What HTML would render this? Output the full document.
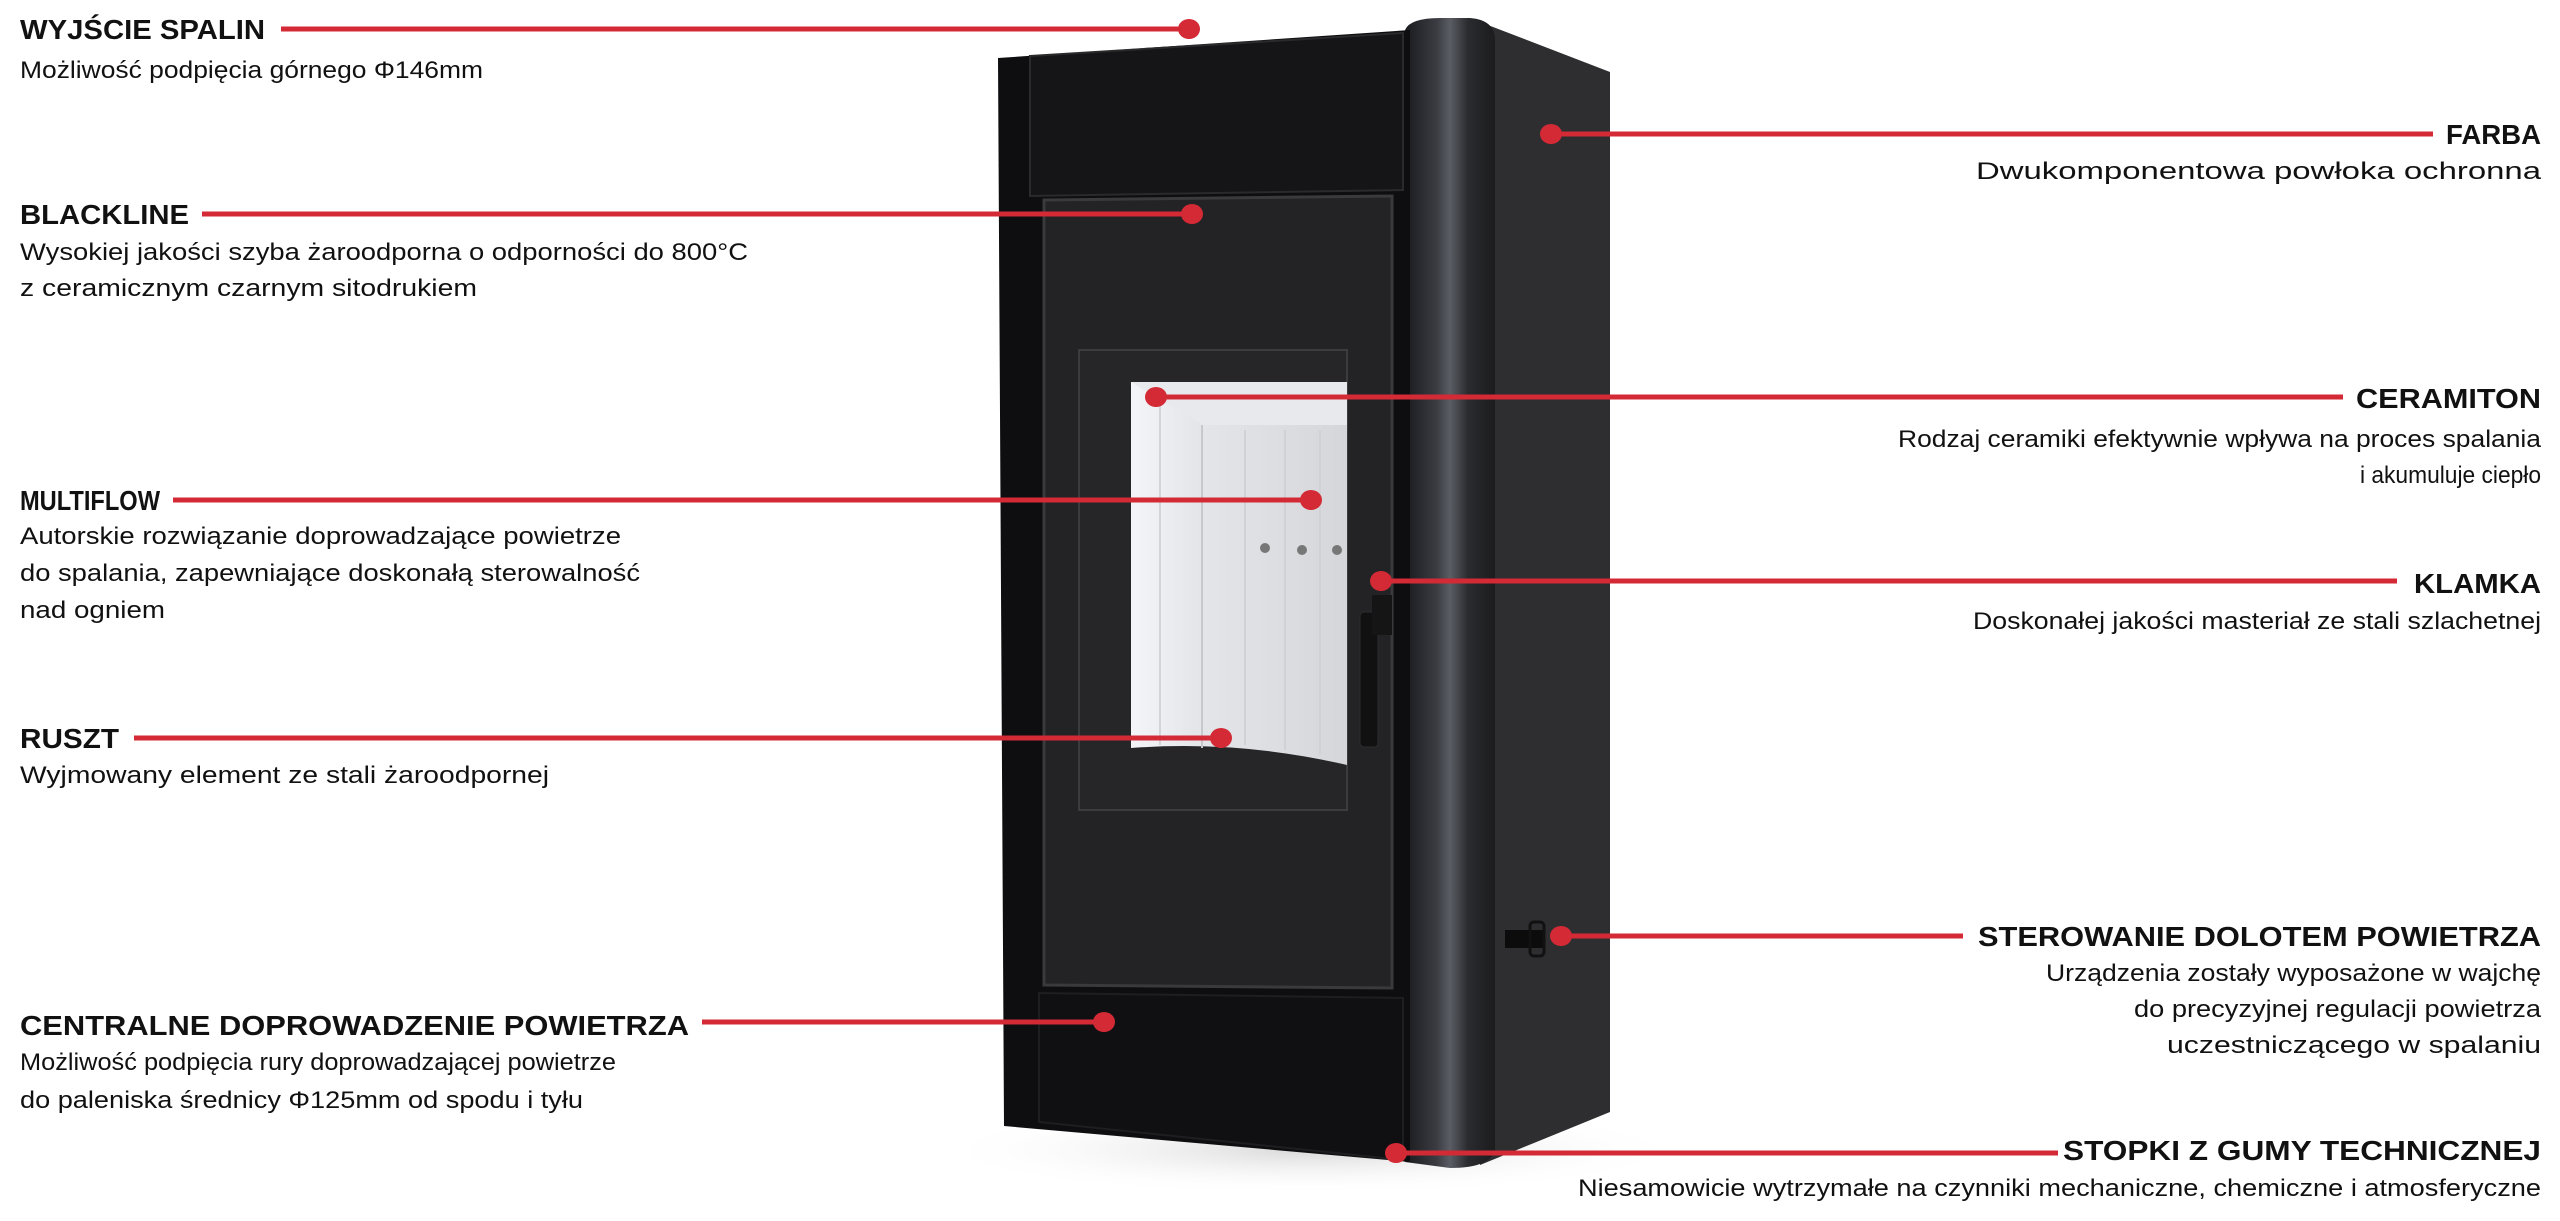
<!DOCTYPE html>
<html><head><meta charset="utf-8"><style>
html,body{margin:0;padding:0;background:#fff;}
svg{display:block;}
.t{font-family:"Liberation Sans",sans-serif;font-weight:bold;font-size:28px;fill:#111;}
.d{font-family:"Liberation Sans",sans-serif;font-size:24px;fill:#111;}
</style></head><body>
<svg width="2560" height="1221" viewBox="0 0 2560 1221" xmlns="http://www.w3.org/2000/svg">
<defs>
<linearGradient id="col" x1="0" x2="1" y1="0" y2="0">
<stop offset="0" stop-color="#1a1b1e"/><stop offset="0.35" stop-color="#3a3c42"/><stop offset="0.5" stop-color="#5a5d63"/><stop offset="0.7" stop-color="#2a2b2f"/><stop offset="1" stop-color="#1c1c1e"/>
</linearGradient>
<linearGradient id="fire" x1="0" x2="1" y1="0" y2="0">
<stop offset="0" stop-color="#f4f5f8"/><stop offset="0.3" stop-color="#e4e6ea"/><stop offset="1" stop-color="#d4d6da"/>
</linearGradient>
<radialGradient id="sh" cx="0.5" cy="0.5" r="0.5">
<stop offset="0" stop-color="#d8d8d8"/><stop offset="1" stop-color="#ffffff" stop-opacity="0"/>
</radialGradient>
</defs>
<ellipse cx="1310" cy="1150" rx="380" ry="45" fill="url(#sh)"/>
<polygon points="1480,22 1610,72 1610,1112 1480,1165" fill="#2e2e30"/>
<path d="M1405,30 Q1410,18 1440,18 L1470,18 Q1495,20 1495,40 L1495,1150 Q1490,1168 1450,1168 L1405,1162 Z" fill="url(#col)"/>
<polygon points="998,58 1410,30 1410,1162 1004,1126" fill="#0e0e10"/>
<polygon points="1030,56 1403,33 1403,190 1030,196" fill="#151517" stroke="#2a2a2c" stroke-width="2"/>
<polygon points="1044,200 1392,196 1392,988 1044,985" fill="#232325" stroke="#3a3a3c" stroke-width="3"/>
<rect x="1079" y="350" width="268" height="460" fill="#262628" stroke="#3c3c3e" stroke-width="2"/>
<path d="M1131,382 L1347,382 L1347,765 Q1240,740 1131,748 Z" fill="url(#fire)"/>
<polygon points="1131,382 1347,382 1347,425 1202,425" fill="#e8e9ec"/>
<line x1="1202" y1="425" x2="1202" y2="748" stroke="#c6c8cc" stroke-width="2"/>
<line x1="1160" y1="400" x2="1160" y2="745" stroke="#d2d4d8" stroke-width="2"/>
<line x1="1245" y1="430" x2="1245" y2="745" stroke="#cfd1d5" stroke-width="2"/>
<line x1="1285" y1="430" x2="1285" y2="750" stroke="#cfd1d5" stroke-width="2"/>
<line x1="1320" y1="430" x2="1320" y2="755" stroke="#cfd1d5" stroke-width="2"/>
<circle cx="1265" cy="548" r="5" fill="#777"/><circle cx="1302" cy="550" r="5" fill="#777"/><circle cx="1337" cy="550" r="5" fill="#777"/>
<rect x="1360" y="612" width="18" height="135" rx="4" fill="#111" stroke="#2c2c2e"/>
<rect x="1372" y="595" width="20" height="40" fill="#151515"/>
<polygon points="1039,993 1403,998 1403,1160 1039,1122" fill="#101012" stroke="#1e1e20" stroke-width="2"/>
<rect x="1505" y="930" width="38" height="18" fill="#0c0c0c"/>
<rect x="1530" y="922" width="14" height="34" rx="4" fill="none" stroke="#111" stroke-width="3"/>
<g stroke="#d32a36" stroke-width="5" fill="none">
<line x1="281" y1="29" x2="1189" y2="29"/>
<line x1="202" y1="214" x2="1192" y2="214"/>
<line x1="173" y1="500" x2="1311" y2="500"/>
<line x1="134" y1="738" x2="1221" y2="738"/>
<line x1="702" y1="1022" x2="1104" y2="1022"/>
<line x1="1551" y1="134" x2="2433" y2="134"/>
<line x1="1156" y1="397" x2="2343" y2="397"/>
<line x1="1381" y1="581" x2="2397" y2="581"/>
<line x1="1561" y1="936" x2="1963" y2="936"/>
<line x1="1396" y1="1153" x2="2058" y2="1153"/>
</g>
<g fill="#d32a36">
<ellipse cx="1189" cy="29" rx="11" ry="10"/>
<ellipse cx="1192" cy="214" rx="11" ry="10"/>
<ellipse cx="1311" cy="500" rx="11" ry="10"/>
<ellipse cx="1221" cy="738" rx="11" ry="10"/>
<ellipse cx="1104" cy="1022" rx="11" ry="10"/>
<ellipse cx="1551" cy="134" rx="11" ry="10"/>
<ellipse cx="1156" cy="397" rx="11" ry="10"/>
<ellipse cx="1381" cy="581" rx="11" ry="10"/>
<ellipse cx="1561" cy="936" rx="11" ry="10"/>
<ellipse cx="1396" cy="1153" rx="11" ry="10"/>
</g>
<text class="t" x="20" y="39" textLength="245" lengthAdjust="spacingAndGlyphs">WYJŚCIE SPALIN</text>
<text class="d" x="20" y="78" textLength="463" lengthAdjust="spacingAndGlyphs">Możliwość podpięcia górnego Φ146mm</text>
<text class="t" x="20" y="224" textLength="169" lengthAdjust="spacingAndGlyphs">BLACKLINE</text>
<text class="d" x="20" y="260" textLength="728" lengthAdjust="spacingAndGlyphs">Wysokiej jakości szyba żaroodporna o odporności do 800°C</text>
<text class="d" x="20" y="296" textLength="457" lengthAdjust="spacingAndGlyphs">z ceramicznym czarnym sitodrukiem</text>
<text class="t" x="20" y="510" textLength="140" lengthAdjust="spacingAndGlyphs">MULTIFLOW</text>
<text class="d" x="20" y="544" textLength="601" lengthAdjust="spacingAndGlyphs">Autorskie rozwiązanie doprowadzające powietrze</text>
<text class="d" x="20" y="581" textLength="620" lengthAdjust="spacingAndGlyphs">do spalania, zapewniające doskonałą sterowalność</text>
<text class="d" x="20" y="618" textLength="145" lengthAdjust="spacingAndGlyphs">nad ogniem</text>
<text class="t" x="20" y="748" textLength="99" lengthAdjust="spacingAndGlyphs">RUSZT</text>
<text class="d" x="20" y="783" textLength="529" lengthAdjust="spacingAndGlyphs">Wyjmowany element ze stali żaroodpornej</text>
<text class="t" x="20" y="1035" textLength="669" lengthAdjust="spacingAndGlyphs">CENTRALNE DOPROWADZENIE POWIETRZA</text>
<text class="d" x="20" y="1070" textLength="596" lengthAdjust="spacingAndGlyphs">Możliwość podpięcia rury doprowadzającej powietrze</text>
<text class="d" x="20" y="1108" textLength="563" lengthAdjust="spacingAndGlyphs">do paleniska średnicy Φ125mm od spodu i tyłu</text>
<text class="t" x="2446" y="144" textLength="95" lengthAdjust="spacingAndGlyphs">FARBA</text>
<text class="d" x="1976" y="179" textLength="565" lengthAdjust="spacingAndGlyphs">Dwukomponentowa powłoka ochronna</text>
<text class="t" x="2356" y="408" textLength="185" lengthAdjust="spacingAndGlyphs">CERAMITON</text>
<text class="d" x="1898" y="447" textLength="643" lengthAdjust="spacingAndGlyphs">Rodzaj ceramiki efektywnie wpływa na proces spalania</text>
<text class="d" x="2360" y="483" textLength="181" lengthAdjust="spacingAndGlyphs">i akumuluje ciepło</text>
<text class="t" x="2414" y="593" textLength="127" lengthAdjust="spacingAndGlyphs">KLAMKA</text>
<text class="d" x="1973" y="629" textLength="568" lengthAdjust="spacingAndGlyphs">Doskonałej jakości masteriał ze stali szlachetnej</text>
<text class="t" x="1978" y="946" textLength="563" lengthAdjust="spacingAndGlyphs">STEROWANIE DOLOTEM POWIETRZA</text>
<text class="d" x="2046" y="981" textLength="495" lengthAdjust="spacingAndGlyphs">Urządzenia zostały wyposażone w wajchę</text>
<text class="d" x="2134" y="1017" textLength="407" lengthAdjust="spacingAndGlyphs">do precyzyjnej regulacji powietrza</text>
<text class="d" x="2167" y="1053" textLength="374" lengthAdjust="spacingAndGlyphs">uczestniczącego w spalaniu</text>
<text class="t" x="2063" y="1160" textLength="478" lengthAdjust="spacingAndGlyphs">STOPKI Z GUMY TECHNICZNEJ</text>
<text class="d" x="1578" y="1196" textLength="963" lengthAdjust="spacingAndGlyphs">Niesamowicie wytrzymałe na czynniki mechaniczne, chemiczne i atmosferyczne</text>
</svg>
</body></html>
